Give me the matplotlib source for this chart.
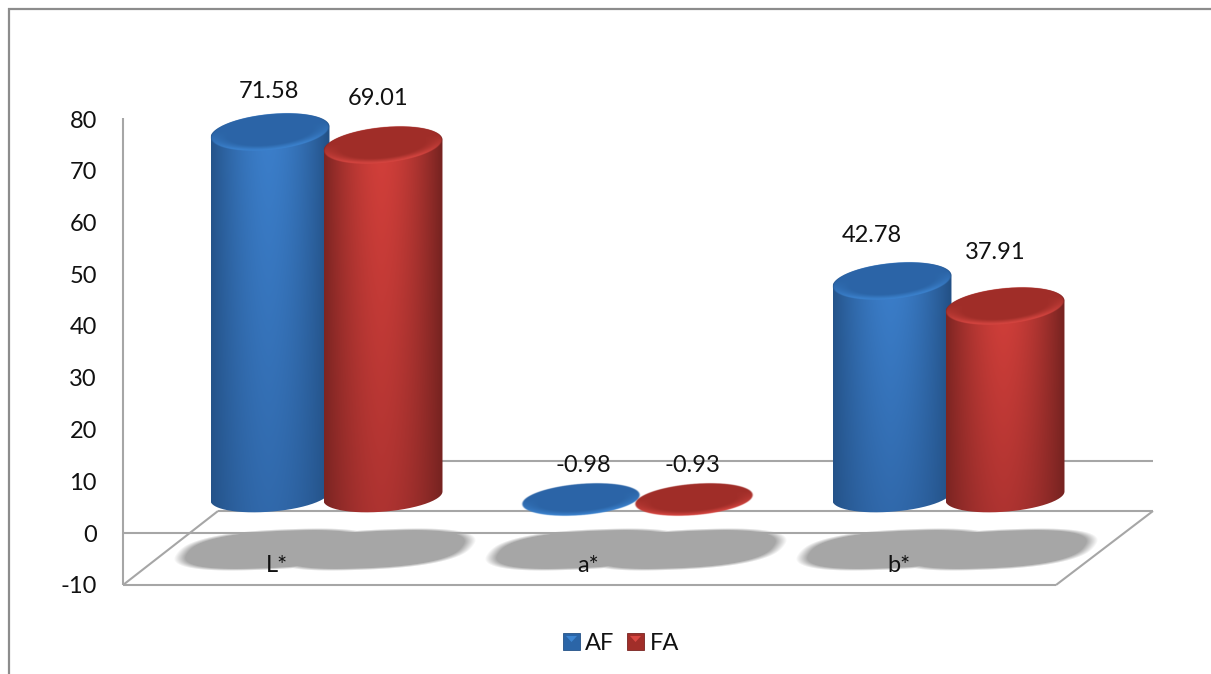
import numpy as np
import matplotlib
matplotlib.use("Agg")
import matplotlib.pyplot as plt
from matplotlib.patches import PathPatch, Rectangle, Polygon
from matplotlib.path import Path
from matplotlib.transforms import Affine2D

# Colour measurements per category
categories = ["L*", "a*", "b*"]
series_names = ["AF", "FA"]
af_values = [71.58, -0.98, 42.78]
fa_values = [69.01, -0.93, 37.91]
y_ticks = [-10, 0, 10, 20, 30, 40, 50, 60, 70, 80]

W, H = 1211, 674
fig = plt.figure(figsize=(W / 100, H / 100), dpi=100, facecolor="white")
plt.rcParams["font.family"] = ["Lato", "DejaVu Sans"]

# Value axis: 0 sits at pixel row 533 and one unit spans 5.175 rows.
# Category axis: groups are 311 pixels apart, the first centred on column 326.5.
Y0, YS = 533.0, 5.175
X0, XS = 326.5, 311.0
XLIM = (-X0 / XS, (W - X0) / XS)
YLIM = ((Y0 - H) / YS, Y0 / YS)
ax = fig.add_axes([0, 0, 1, 1])
ax.set_xlim(*XLIM)
ax.set_ylim(*YLIM)
ax.set_autoscale_on(False)
ax.axis("off")

# Pixel-space transform for the chart furniture (row 0 at the top)
px = Affine2D().scale(1, -1).translate(0, H)

GRID = "#a6a6a6"
FRAME = "#8c8c8c"


def pline(xs, ys, color=GRID, lw=1.5, z=1):
    ax.plot(xs, ys, color=color, lw=lw, transform=px, zorder=z,
            solid_capstyle="butt", clip_on=False)


# Cylinder geometry in axis units
BAR_W = 119 / XS
BAR_SHIFT = 56.5 / XS
DEPTH = 5.9          # rise of the plotted top caused by the 3D depth
BASE = 7.15          # level of the cylinder foot
FLAT = 5.5           # level that near-zero discs start from
CAP_B, CAP_S = 18 / YS, 5.5 / YS
FOOT_B, FOOT_S = 15.7 / YS, 4.5 / YS


def ellipse(cx, cy, b, s, t):
    return (cx + BAR_W / 2 * np.cos(t),
            cy + b * np.sin(t) + s * np.cos(t))


def shade(top_rgb, bottom_rgb, edge_rgb, ny=200, nx=160):
    u = np.linspace(-1, 1, nx)
    across = np.clip(1 - np.abs(u + 0.03) ** 1.7, 0, 1)[None, :, None]
    v = np.linspace(0, 1, ny)[:, None, None]
    main = np.array(top_rgb)[None, None, :] * (1 - v) + np.array(bottom_rgb)[None, None, :] * v
    edge = np.array(edge_rgb)[None, None, :]
    return edge + (main - edge) * across


PALETTE = {
    "AF": dict(top=(0.235, 0.50, 0.80), bottom=(0.19, 0.41, 0.67),
               edge=(0.14, 0.32, 0.53), cap=(0.17, 0.395, 0.655),
               rim=(0.24, 0.52, 0.82)),
    "FA": dict(top=(0.83, 0.25, 0.23), bottom=(0.68, 0.20, 0.19),
               edge=(0.47, 0.14, 0.13), cap=(0.63, 0.18, 0.16),
               rim=(0.85, 0.28, 0.26)),
}


def draw_face(cx, cy, b, s, colors, z):
    """Top face of a cylinder: flat colour with a soft bevel along the front edge."""
    half_h = np.hypot(b, s) * 1.05
    half_w = BAR_W / 2 * 1.02
    xs = np.linspace(cx - half_w, cx + half_w, 260)
    ys = np.linspace(cy + half_h, cy - half_h, 110)
    gx, gy = np.meshgrid(xs, ys)
    c = (gx - cx) / (BAR_W / 2)
    q = (gy - cy - s * c) / b
    r = np.sqrt(c ** 2 + q ** 2)
    front = np.clip(0.25 - q, 0, 1)
    bevel = (np.clip((r - 0.72) / 0.26, 0, 1) * front)[..., None]
    cap = np.array(colors["cap"])
    rim = np.array(colors["rim"])
    rgba = np.zeros(gx.shape + (4,))
    rgba[..., :3] = cap + (rim - cap) * bevel
    rgba[..., 3] = np.clip((1 - r) / 0.03, 0, 1)
    ax.imshow(rgba, extent=(xs[0], xs[-1], ys[-1], ys[0]), aspect="auto", zorder=z,
              interpolation="bilinear")


def draw_cylinder(cx, value, colors, z):
    ytop = value + DEPTH
    lower = np.linspace(np.pi, 2 * np.pi, 90)
    upper = np.linspace(0, np.pi, 90)
    xb, yb = ellipse(cx, BASE, FOOT_B, FOOT_S, lower)
    xu, yu = ellipse(cx, ytop, CAP_B, CAP_S, upper)
    body = np.column_stack([np.r_[xb, xu], np.r_[yb, yu]])
    clip = PathPatch(Path(np.vstack([body, body[:1]])), fc="none", ec="none",
                     transform=ax.transData)
    ax.add_patch(clip)
    img = ax.imshow(shade(colors["top"], colors["bottom"], colors["edge"]),
                    extent=(cx - BAR_W / 2, cx + BAR_W / 2, BASE - 4, ytop + 4),
                    aspect="auto", zorder=z, interpolation="bilinear")
    img.set_clip_path(clip)
    draw_face(cx, ytop, CAP_B, CAP_S, colors, z + 0.1)


def draw_disc(cx, value, colors, z):
    draw_face(cx, FLAT + abs(value), FOOT_B, FOOT_S, colors, z)


# Soft floor shadows, one two-lobed blob per category
def draw_shadow(i):
    gx, gy = np.meshgrid(np.arange(W), np.arange(H))
    alpha = np.zeros((H, W))
    for c, lift in ((-52.0, 0.0), (48.0, 0.0)):
        cx = X0 + XS * i + c
        dx = (gx - cx + 0.75 * (gy - 549)) / 92
        dy = (gy - 549 - lift + 0.035 * (gx - cx)) / 19.5
        r = (np.abs(dx) ** 2.5 + np.abs(dy) ** 2.5) ** (1 / 2.5)
        alpha = np.maximum(alpha, np.clip((1.04 - r) / 0.12, 0, 1))
    rgba = np.zeros((H, W, 4))
    rgba[..., :3] = 166 / 255
    rgba[..., 3] = alpha
    ax.imshow(rgba, extent=XLIM + YLIM, aspect="auto", zorder=1.5,
              origin="upper", interpolation="bilinear")


for i in range(len(categories)):
    draw_shadow(i)

# Outer chart border: left and top only
pline([9, 9], [8, H], FRAME, 1.6)
pline([8, W], [9, 9], FRAME, 1.6)

# Walls, floor and zero plane of the 3D box
pline([123, 123], [118, 585])
pline([123, 1056], [585, 585])
pline([123, 1056], [533, 533], z=2)
pline([218, 1153], [511, 511])
pline([218, 1153], [461, 461])
pline([123, 218], [585, 511])
pline([1056, 1153], [585, 511])

# Cylinders, left to right so that each overlaps its neighbour correctly
for i in range(len(categories)):
    for name, vals, sign, z in (("AF", af_values, -1, 3), ("FA", fa_values, 1, 4)):
        v = vals[i]
        cx = i + sign * BAR_SHIFT
        if v < 0:
            draw_disc(cx, v, PALETTE[name], z)
        else:
            draw_cylinder(cx, v, PALETTE[name], z)

TXT = dict(color="#111111", fontsize=17, zorder=10)

# Value labels, nudged off the caps
label_shift = [
    [(-0.005, 7.9), (-0.016, 9.0)],
    [(0.008, 6.6), (-0.006, 6.6)],
    [(-0.065, 8.9), (-0.03, 10.35)],
]
for i in range(len(categories)):
    for j, (vals, sign) in enumerate(((af_values, -1), (fa_values, 1))):
        v = vals[i]
        dx, dy = label_shift[i][j]
        level = DEPTH + v if v > 0 else FLAT + abs(v)
        ax.text(i + sign * BAR_SHIFT + dx, level + dy, f"{v:.2f}",
                ha="center", va="center", **TXT)

# Tick labels
for v in y_ticks:
    ax.text(97, Y0 - YS * v, str(v), transform=px, ha="right", va="center_baseline", **TXT)
for i, c in enumerate(categories):
    ax.text((277 + XS * i - X0) / XS, -6.3, c, ha="center", va="center", **TXT)

# Legend
for name, x0, tx in zip(series_names, (563, 627), (585, 650)):
    col = PALETTE[name]
    ax.add_patch(Rectangle((x0, 633), 17, 17, transform=px, fc=col["cap"], ec=col["edge"],
                           lw=0.6, zorder=9))
    ax.add_patch(Polygon([(x0 + 3, 636), (x0 + 14, 636), (x0 + 8.5, 642)], transform=px,
                         fc=col["rim"], ec="none", zorder=9.5))
    ax.text(tx, 642, name, transform=px, ha="left", va="center_baseline", **TXT)

ax.set_xlim(*XLIM)
ax.set_ylim(*YLIM)
fig.savefig("out.png", dpi=100, facecolor="white")
